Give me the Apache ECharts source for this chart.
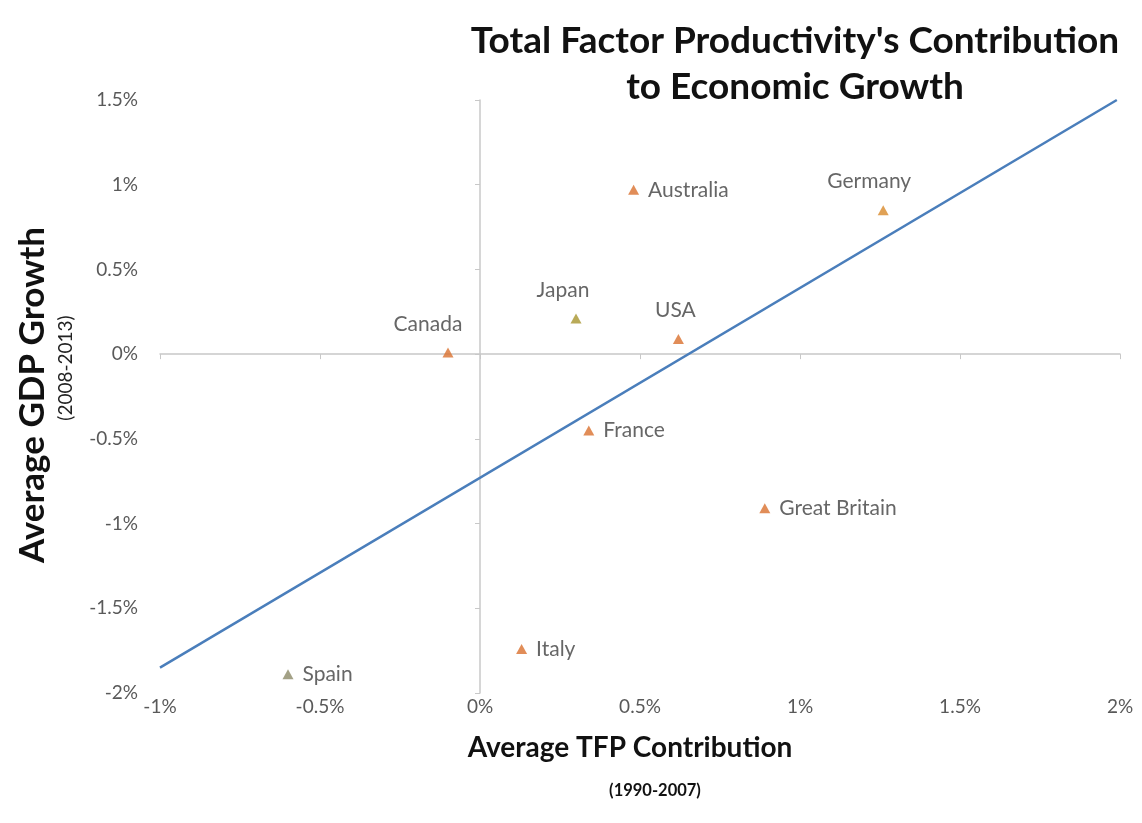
<!DOCTYPE html>
<html>
<head>
<meta charset="utf-8">
<script src="https://cdn.jsdelivr.net/npm/echarts@6/dist/echarts.min.js"></script>
<style>
html,body{margin:0;padding:0;background:#fff;}
#chart{width:1142px;height:823px;}
</style>
</head>
<body>
<div id="chart"></div>
<script>
// ---- data ----
const countries = ['Canada','Japan','Australia','USA','Germany','France','Great Britain','Italy','Spain'];
const tfpContribution = [-0.10, 0.30, 0.48, 0.62, 1.26, 0.34, 0.89, 0.13, -0.60];   // x, %
const gdpGrowth       = [0.01, 0.21, 0.97, 0.09, 0.85, -0.45, -0.91, -1.74, -1.89]; // y, %
const trendX = [-1, 1.99];
const trendY = [-1.85, 1.50];
const xTicks = {min: -1, max: 2, interval: 0.5};
const yTicks = {min: -2, max: 1.5, interval: 0.5};

// ---- styling (kept apart from the data) ----
const FONT = 'Lato';
const labelLayout = {
  'Canada':  {position: 'top', offset: [-20, 0], distance: 13},
  'Japan':   {position: 'top', offset: [-13, 0], distance: 13},
  'USA':     {position: 'top', offset: [-3, 0], distance: 13},
  'Germany': {position: 'top', offset: [-14, 0], distance: 13}
};
const markerColors = {'Japan': '#A8952E', 'Spain': '#8C8A68', 'Germany': '#D88A2A'};
const defaultMarker = '#D9712E';
const pct = v => (Math.round(v * 10) / 10) + '%';

const chart = echarts.init(document.getElementById('chart'));
const points = countries.map((c, i) => ({
  name: c,
  value: [tfpContribution[i], gdpGrowth[i]],
  itemStyle: {color: markerColors[c] || defaultMarker},
  label: labelLayout[c] || {position: 'right'}
}));

chart.setOption({
  animation: false,
  backgroundColor: '#fff',
  textStyle: {fontFamily: FONT},
  title: {
    text: "Total Factor Productivity's Contribution\nto Economic Growth",
    left: 790, top: 13, textAlign: 'center',
    textStyle: {fontFamily: FONT, fontSize: 37, fontWeight: 'bold', color: '#111', lineHeight: 46}
  },
  grid: {left: 160, right: 22, top: 100, bottom: 130},
  xAxis: [
    {type: 'value', position: 'bottom', min: xTicks.min, max: xTicks.max, interval: xTicks.interval,
     axisLine: {show: false, onZero: false}, axisTick: {show: false}, splitLine: {show: false},
     axisLabel: {formatter: pct, color: '#595959', fontSize: 19, margin: 4, fontFamily: FONT}},
    {type: 'value', position: 'bottom', min: xTicks.min, max: xTicks.max, interval: xTicks.interval,
     axisLine: {show: true, onZero: true, onZeroAxisIndex: 1, lineStyle: {color: '#C8C8C8', width: 1.5}},
     axisTick: {show: true, length: 5, lineStyle: {color: '#C8C8C8'}},
     axisLabel: {show: false}, splitLine: {show: false}}
  ],
  yAxis: [
    {type: 'value', position: 'left', min: yTicks.min, max: yTicks.max, interval: yTicks.interval,
     axisLine: {show: false, onZero: false}, axisTick: {show: false}, splitLine: {show: false},
     axisLabel: {formatter: pct, color: '#595959', fontSize: 19, margin: 22, fontFamily: FONT}},
    {type: 'value', position: 'left', min: yTicks.min, max: yTicks.max, interval: yTicks.interval,
     axisLine: {show: true, onZero: true, onZeroAxisIndex: 1, lineStyle: {color: '#C8C8C8', width: 1.5}},
     axisTick: {show: true, length: 5, lineStyle: {color: '#C8C8C8'}},
     axisLabel: {show: false}, splitLine: {show: false}}
  ],
  series: [
    {
      type: 'line', xAxisIndex: 0, yAxisIndex: 0,
      data: trendX.map((x, i) => [x, trendY[i]]),
      showSymbol: false, symbol: 'none',
      lineStyle: {color: '#4A7EBB', width: 2.5}, z: 3
    },
    {
      type: 'scatter', xAxisIndex: 0, yAxisIndex: 0,
      symbol: 'triangle', symbolSize: [11, 10],
      data: points,
      label: {show: true, formatter: '{b}', color: '#404040', fontSize: 21, fontFamily: FONT, distance: 9},
      z: 4
    }
  ],
  graphic: [
    {type: 'text', rotation: Math.PI / 2, position: [33, 395],
     style: {text: 'Average GDP Growth', font: 'bold 35px ' + FONT, fill: '#111', textAlign: 'center', textVerticalAlign: 'middle'}},
    {type: 'text', rotation: Math.PI / 2, position: [66, 368],
     style: {text: '(2008-2013)', font: '19px ' + FONT, fill: '#222', textAlign: 'center', textVerticalAlign: 'middle'}},
    {type: 'text', position: [630, 748],
     style: {text: 'Average TFP Contribution', font: 'bold 28px ' + FONT, fill: '#111', textAlign: 'center', textVerticalAlign: 'middle'}},
    {type: 'text', position: [655, 791],
     style: {text: '(1990-2007)', font: 'bold 16.5px ' + FONT, fill: '#111', textAlign: 'center', textVerticalAlign: 'middle'}}
  ]
});
</script>
</body>
</html>
